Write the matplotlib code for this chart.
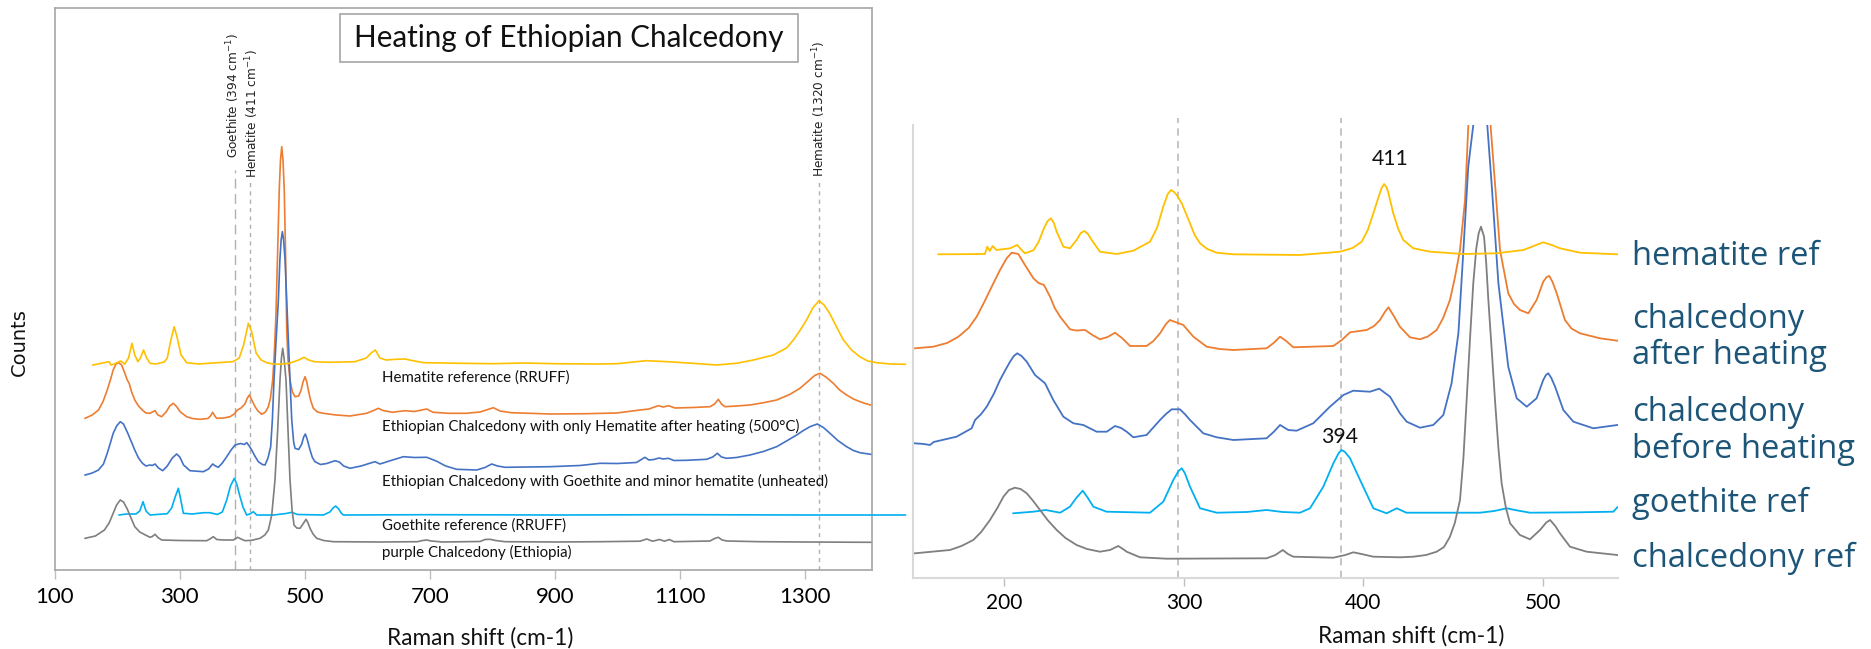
import matplotlib
matplotlib.use("Agg")
import matplotlib.pyplot as plt
from matplotlib.patches import Rectangle

# ---------------- data (Raman shift cm-1, counts in arbitrary units) ----------------
# Left panel (full range)
L_HEMATITE = [(161, 205), (187, 208.3), (190, 205), (195, 206), (205, 209), (212, 206), (218, 212),
    (223.5, 226.7), (228, 215), (233, 208.3), (237, 212), (242, 220), (247, 212), (252.5, 206.7),
    (262, 206), (275, 208), (280, 212), (285, 228), (291, 243.3), (296, 232), (302, 215), (311, 207.3),
    (330, 206), (360, 207.3), (385, 208.3), (395, 212), (402, 225), (409.6, 246.7), (415, 238),
    (422, 217), (430, 210), (440, 207), (455, 205.7), (475, 206.7), (490, 210), (498.6, 212.7),
    (506, 210), (515, 208.3), (540, 207.7), (580, 208.3), (598, 212), (606, 217), (612.6, 220),
    (620, 212), (630, 210), (645, 210.7), (660, 211), (675, 209), (690, 207.3), (750, 206.7),
    (800, 206.3), (850, 207), (900, 206.3), (970, 206), (1000, 206.3), (1030, 208.3), (1046, 209.3),
    (1080, 208.3), (1120, 206.7), (1158, 205), (1190, 206.7), (1217, 210), (1249, 215), (1270, 222),
    (1281, 230), (1292, 240), (1302, 250), (1312, 262), (1322, 269.3), (1330, 265), (1339, 256.7),
    (1350, 243), (1361, 230), (1374, 220), (1387, 213.3), (1400, 209), (1414, 207.3), (1435, 206),
    (1460, 205.7)]

L_AFTER = [(148.6, 151.7), (160, 155), (170, 160), (177, 168), (184, 180), (189, 190), (193.5, 200),
    (198, 206), (202, 207.3), (207, 205), (212, 197), (216, 190), (219, 186.7), (223, 178), (228, 170),
    (234, 164), (240, 160), (246, 157), (252.4, 156.7), (256, 158), (260.4, 159.3), (265, 155),
    (271, 153.3), (278, 158), (284, 164), (289.7, 166.7), (295, 163.3), (301, 158), (311, 153.3),
    (320, 151.5), (332.3, 150.7), (345, 151.5), (349, 154), (352.6, 157.7), (356, 154), (359, 151.7),
    (370, 152), (380.3, 153.3), (387, 156), (392, 160), (398, 162), (404, 166), (408, 172),
    (411.2, 175), (415, 170), (420.3, 163.3), (425, 159), (431, 155.7), (437, 158), (441.6, 163.3),
    (445, 172), (448.5, 190), (451, 215), (453.8, 256.7), (456.5, 320), (459, 380), (461, 410),
    (463, 423.3), (465, 410), (467, 380), (469, 320), (470.9, 240), (473, 210), (476.2, 190),
    (480, 178), (484.2, 173.3), (490, 174), (494, 180), (497, 188), (500.2, 193.3), (503, 188),
    (505.5, 180), (509, 170), (513.5, 161.7), (520, 158), (529.5, 156.7), (550, 155), (572, 154),
    (598.8, 156.7), (608, 159), (617.4, 161.7), (625, 159.5), (640, 157.7), (660, 159.3),
    (675, 158.5), (694.7, 161), (705, 157.7), (730, 156.7), (758.7, 156.7), (780, 158), (790, 160),
    (801.3, 162.3), (812, 159), (830, 157.3), (891.9, 156), (950, 156.3), (998.5, 157),
    (1035.8, 160), (1050, 161), (1065, 164.3), (1073, 163), (1081, 164.3), (1092, 162),
    (1120, 162.5), (1147.7, 163.3), (1155, 166), (1161, 170.7), (1166, 166), (1171.6, 163.3),
    (1190, 164), (1211.6, 165), (1235, 167.5), (1254.2, 170), (1275, 175.5), (1291.5, 181.7),
    (1305, 189), (1315, 194.5), (1323.5, 196.7), (1333, 193), (1344.8, 186.7), (1355, 180),
    (1366.1, 175), (1377, 171), (1387.5, 168.3), (1396, 166.5), (1404.5, 165)]

L_BEFORE = [(148.6, 95), (160, 97), (170, 100), (178, 106), (184, 116.7), (189, 127), (193.5, 136.7),
    (199, 144), (204.8, 148.3), (210, 146), (216.9, 136.7), (222, 129), (228, 120), (234, 112),
    (240.3, 106.7), (246, 104), (252.4, 105), (256, 104.5), (260.4, 106), (266, 102), (272.6, 99.3),
    (280, 104), (288, 112), (295, 116), (300, 113), (306, 105), (316.3, 99.3), (337.7, 98.3),
    (346, 101), (352.6, 106), (357, 104), (361.6, 102.7), (368, 107), (375, 113.3), (382, 120),
    (388.3, 125), (397, 126.5), (403, 125.5), (407, 127.3), (411, 124), (415, 120), (420, 114),
    (425.6, 108.3), (432, 105.5), (436.3, 105), (441, 112), (445.3, 123.3), (448, 150), (450.6, 190),
    (454, 230), (457.6, 270), (460, 310), (462, 330), (464, 338.3), (466, 330), (468.3, 310),
    (470.9, 270), (473.5, 230), (476.2, 190), (479, 150), (482, 128), (484.2, 121.7), (490, 120.5),
    (495, 126), (498, 133), (500.7, 136), (504, 130), (508.2, 120), (512, 112.5), (516.2, 108.3),
    (525, 105.5), (535, 106.5), (548.2, 109.3), (555, 108), (562, 104), (572.1, 101.7), (590, 104),
    (605, 107), (612.1, 108.3), (620, 106), (635, 109), (657.4, 113.3), (675, 112.5), (694.7, 112.7),
    (710, 109), (725, 104), (742.7, 100.7), (774.6, 100), (788, 102.5), (798.6, 106), (808, 104),
    (820, 102.7), (860, 103), (891.9, 103.3), (940, 104.5), (971.8, 106.7), (1000, 106.5),
    (1030, 107.5), (1041, 111.7), (1043.7, 112.7), (1050, 110), (1058, 110.5), (1066, 112),
    (1073, 111), (1081, 111.7), (1090, 109.5), (1110, 109.7), (1142.3, 110.7), (1152, 113),
    (1159.4, 116.7), (1166, 113), (1174.3, 111.7), (1190, 112.5), (1211.6, 115), (1233, 118.5),
    (1254.2, 123.3), (1270, 129), (1286.2, 135), (1297, 139.5), (1307.5, 143.3), (1319.2, 146),
    (1329, 142.5), (1339.5, 136.7), (1352, 129.5), (1366.1, 123.3), (1377, 119.5), (1387.5, 117.3),
    (1396, 116.5), (1404.5, 115.7)]

L_GOETHITE = [(203, 55), (215, 56), (230, 56), (236, 59), (241.2, 68.3), (246, 59), (252.4, 55),
    (280, 56.3), (287, 62), (292, 72), (297.7, 81.7), (301, 72), (305.7, 56.7), (320, 56), (338, 57.3),
    (348.3, 57.3), (360, 55.5), (368, 58), (375, 70), (381, 84), (387.2, 91.7), (391, 86),
    (396.3, 73.3), (401, 63), (406.9, 55), (412, 56), (417.6, 58.3), (423, 55), (450, 55),
    (470, 56.5), (478.9, 57.7), (488, 55.5), (529.5, 55), (540, 58), (545, 62), (549.2, 64),
    (554, 61), (558, 57), (561.5, 55), (700, 55.3), (900, 55), (1100, 55.3), (1300, 55), (1460, 55)]

L_PURPLE = [(148.6, 31.7), (165, 34), (179.5, 40), (187, 47), (193.5, 56.7), (199, 65), (204.8, 70),
    (210, 68), (216, 61), (222, 52), (228, 43.3), (236, 38), (245, 35), (252.4, 32.7), (256, 33.5),
    (260.4, 35.7), (265, 32.5), (271, 30), (300, 29.5), (343, 29.3), (348, 31), (353.7, 33.3),
    (359, 30.5), (370, 30), (385.6, 30), (392.6, 32.7), (398, 31), (404.3, 29.3), (415, 29.7),
    (428.3, 31.7), (436, 35), (441.6, 40), (447, 55), (452.2, 90), (456.5, 140), (460.2, 190),
    (462.5, 212), (464.5, 221.7), (466.7, 212), (469.8, 190), (473, 140), (476.2, 90), (479.5, 60),
    (482.6, 45), (487, 42), (492.2, 41.7), (497, 46), (501.8, 50.7), (505, 47), (508.2, 41.7),
    (513, 36), (518.9, 31.7), (530, 29.5), (545.5, 28.3), (620, 28), (680, 28.3), (688, 29.5),
    (694.7, 30), (702, 29), (720, 28), (780, 28.5), (788, 30.5), (796, 30.7), (805, 29.5),
    (820, 28.3), (900, 28), (971.8, 28.3), (1036, 28.8), (1046.4, 31), (1056, 28.8), (1066.7, 30.5),
    (1075, 28.8), (1082.6, 30.5), (1090, 28.3), (1147.7, 29), (1155, 31.5), (1161, 32.7),
    (1167, 30), (1175, 29), (1227.6, 28.3), (1300, 28), (1404.5, 27.7)]

# Right panel (zoom 150-540 cm-1)
R_HEMATITE = [(163.1, 323.7), (175, 323.8), (189.1, 324), (190.4, 331.3), (191.8, 327), (193.4, 332),
    (195.5, 328), (203.1, 329.7), (207.1, 333), (209.5, 328), (211.4, 324.7), (216.1, 327.7),
    (219, 336), (221.6, 348), (224, 357), (225.9, 359.7), (227.5, 355), (229.1, 346.3), (232.8, 331.3),
    (236.5, 329.7), (240.2, 338), (242.5, 345), (244.5, 347), (246.5, 344), (248.6, 338),
    (253.2, 326.3), (262.5, 324), (271.8, 327.3), (281.1, 336.3), (285, 350), (288.5, 371.3),
    (291, 384), (292.8, 388), (294.5, 386), (296, 383), (298.8, 374.7), (303.4, 354.7), (306, 343),
    (309, 334.7), (313, 329), (318.3, 325.3), (327.6, 323.7), (364.7, 323), (387, 326.3),
    (394, 330), (399.1, 336.3), (402.5, 348), (405.6, 364.7), (408.5, 381), (410.2, 390),
    (411.6, 394), (413, 390.5), (414, 385), (416.7, 364.7), (419.5, 349), (422.3, 338),
    (427.9, 329.7), (437.2, 326.3), (455.8, 324), (474.3, 324.7), (489.2, 328), (495, 332),
    (500.3, 335.7), (505, 333), (509.6, 329.7), (520.8, 325.3), (541.6, 323.7)]

R_AFTER = [(150.1, 229.7), (160.3, 231.3), (168, 235), (174.3, 241.3), (180, 250), (184.5, 261.3),
    (189, 277), (193.8, 294.7), (197.5, 308), (201.2, 319.7), (204, 325.3), (207.7, 324),
    (211.4, 313), (216.1, 299.7), (219, 295), (222, 293), (225.4, 281.3), (228, 270), (231, 261.3),
    (236.5, 248.7), (240, 247.5), (244.9, 248), (249, 243), (253.2, 238.7), (257.5, 241),
    (261.6, 245.3), (265.5, 240), (270, 232), (279.2, 232), (283, 237), (286.7, 244.7), (290, 254),
    (292.2, 258), (296, 255.5), (299.7, 253), (302.5, 247), (305.3, 241.3), (312.7, 231.3),
    (320, 229), (327.6, 228), (346.1, 229.7), (350, 235), (353.6, 241.3), (357, 237), (361, 230.7),
    (383.3, 232), (388, 238), (392.6, 245.7), (401.9, 248), (406, 252), (409.3, 258), (412, 266),
    (414, 270.7), (417, 262), (420.4, 251.3), (426, 240.7), (431.6, 238.7), (436, 241.5),
    (440.9, 248), (444.5, 260), (448.3, 278), (451, 300), (453.9, 328), (456.7, 378), (458.5, 451.3),
    (461, 560), (465, 620), (469, 560), (471, 451), (473.4, 394.7), (476.2, 328), (480.8, 284.7),
    (484, 274), (487.3, 268), (492, 264.7), (496.6, 278), (500.3, 296.3), (502.2, 301),
    (503.7, 302), (505.5, 296), (507.8, 284.7), (512.4, 258), (516, 249.5), (520.8, 244.7),
    (531.9, 239.7), (541.6, 237.3)]

R_BEFORE = [(150.1, 134.7), (155, 134), (158.5, 133), (160.5, 136), (173.3, 141.3), (181.7, 149.7),
    (183.6, 158), (187, 164), (190.1, 171.3), (194, 184), (197.5, 198), (200.5, 208), (203.1, 216.3),
    (205.2, 222), (207.1, 224.7), (209.5, 222), (212.4, 216.3), (217, 203), (222.6, 194.7),
    (227.2, 178), (232.8, 161.3), (238.4, 154.7), (243.9, 153), (251.4, 146.3), (257, 146.3),
    (261.6, 152), (265, 150), (268.1, 146.3), (271.8, 140.7), (279.2, 143), (286.7, 158),
    (290, 164), (293.2, 168.7), (297.8, 168.7), (300.5, 164), (303.4, 158), (310.8, 144.7),
    (318.3, 140.7), (327.6, 138), (346.1, 139.7), (350, 146), (353.6, 153), (358.2, 148),
    (362.8, 147.3), (372.1, 154.7), (381.4, 171.3), (388.9, 183), (394.4, 187.3), (403.7, 186.3),
    (408.9, 189.3), (414.9, 181.3), (420.4, 164.7), (424.2, 156.3), (431.6, 150.3), (439, 153),
    (444.6, 163), (449.2, 194.7), (453, 244.7), (455.8, 328), (458.5, 411.3), (461.3, 453),
    (463.5, 520), (465.5, 540), (467.3, 520), (469.1, 453), (471.5, 394.7), (475.3, 294.7),
    (480.8, 211.3), (485.5, 179.7), (491.1, 171.3), (496.6, 179.7), (500.3, 198), (501.8, 203),
    (503.1, 204.7), (504.8, 200), (506.9, 191.3), (511.5, 168), (517.1, 156.3), (528.2, 149.7),
    (541.6, 153)]

R_GOETHITE = [(204.9, 64.7), (216.1, 66.3), (223, 68), (231, 65.3), (236.5, 71.3), (240, 80),
    (243.6, 87.3), (246.5, 80), (249.5, 71.3), (256.9, 66.3), (281.1, 65.3), (288.5, 76.3),
    (294.1, 98), (297, 107), (298.8, 109.7), (300.5, 105), (303.4, 91.3), (309, 69.7), (318.3, 65.3),
    (335, 66), (346.1, 68), (355, 66), (364.7, 65.3), (370.3, 69.7), (377.7, 91.3), (383.3, 114.7),
    (386.3, 125), (387.9, 128), (389.8, 126), (392.6, 119.7), (398.2, 98), (405.6, 69.7), (413, 64.7),
    (418.6, 69.7), (424, 65.3), (446.5, 65.3), (465, 65.3), (473, 67), (479.9, 69.7), (486, 67.5),
    (492.9, 65.3), (520, 65.7), (539.4, 66.3), (541.6, 70.7)]

R_CHALC = [(150.1, 24.7), (169.6, 28), (176, 32), (182.6, 38), (187, 46), (191.9, 58), (196, 70),
    (199.4, 81.3), (202.5, 88), (205.8, 90.3), (209, 89), (212.4, 84.7), (216, 77), (219.8, 68),
    (224, 58), (229.1, 48), (234, 40), (240.2, 33), (246, 29), (253.2, 26.3), (258.8, 28),
    (263.4, 32), (266, 29), (268.1, 26.3), (275.5, 20.7), (290.4, 19.3), (346.1, 19.7), (351, 23),
    (355.1, 28), (358, 24), (361, 21.3), (383.3, 20.3), (390, 23), (394.4, 25.7), (399, 24),
    (405.6, 21.3), (420.4, 20.7), (427.9, 21.3), (435, 23), (440.9, 26.3), (445, 31), (448.3, 41.3),
    (451, 55), (453.9, 78), (455.8, 120), (457.6, 178), (459.5, 240), (461.3, 294.7), (463, 330),
    (464.3, 344.7), (465.6, 351.3), (467.3, 341.3), (468.5, 315), (469.7, 278), (471.5, 230),
    (473.4, 178), (475.3, 130), (477.1, 94.7), (479.5, 70), (481.8, 54.7), (487.3, 43), (492.9, 38.7),
    (498.5, 48), (502, 55.5), (504.1, 58), (507, 52), (509.6, 44.7), (515.2, 31.3), (524.5, 26.3),
    (541.6, 23)]

LEFT_TICKS = [100, 300, 500, 700, 900, 1100, 1300]
RIGHT_TICKS = [200, 300, 400, 500]
LEFT_MARKERS = [388.7, 411.8, 1321.9]
LEFT_MARKER_LABELS = ["Goethite (394 cm$^{-1}$)", "Hematite (411 cm$^{-1}$)", "Hematite (1320 cm$^{-1}$)"]
RIGHT_MARKERS = [296.7, 387.6]
SERIES_LABELS = ["Hematite reference (RRUFF)",
                 "Ethiopian Chalcedony with only Hematite after heating (500°C)",
                 "Ethiopian Chalcedony with Goethite and minor hematite (unheated)",
                 "Goethite reference (RRUFF)",
                 "purple Chalcedony (Ethiopia)"]
RIGHT_LABEL_LINES = ["hematite ref", "chalcedony", "after heating", "chalcedony", "before heating",
                     "goethite ref", "chalcedony ref"]

YELLOW, ORANGE, BLUE, CYAN, GRAY = "#FFC000", "#ED7D31", "#4472C4", "#00B0F0", "#7F7F7F"

# ---------------- figure ----------------
W, H = 1871, 649
fig = plt.figure(figsize=(W / 100, H / 100), dpi=100)
fig.patch.set_facecolor("white")

def fx(X):
    return X / W

def fy(Y):
    return 1 - Y / H

SANS = "Lato"
VER = "DejaVu Sans"
LABEL_BLUE = "#1C5578"

def xy(pairs):
    return [p[0] for p in pairs], [p[1] for p in pairs]

# ---- left panel ----
ax1 = fig.add_axes([fx(54.7), fy(570), (871.7 - 54.7) / W, (570 - 8) / H])
ax1.set_xlim(100, 1406.2)
ax1.set_ylim(0, 562)
for s in ax1.spines.values():
    s.set_color("#A6A6A6")
    s.set_linewidth(1.2)
ax1.set_yticks([])
ax1.set_xticks(LEFT_TICKS)
ax1.set_xticklabels([str(t) for t in LEFT_TICKS], fontfamily=SANS, fontsize=16)
ax1.tick_params(axis="x", length=6.5, width=1, color="#BFBFBF", pad=6)

lw = 1.2
ax1.plot(*xy(L_AFTER), color=ORANGE, lw=lw, zorder=2)
ax1.plot(*xy(L_BEFORE), color=BLUE, lw=lw, zorder=3)
ax1.plot(*xy(L_GOETHITE), color=CYAN, lw=lw, zorder=4, clip_on=False)
ax1.plot(*xy(L_PURPLE), color=GRAY, lw=lw, zorder=5)
ax1.plot(*xy(L_HEMATITE), color=YELLOW, lw=lw, zorder=6, clip_on=False)

marker_tops = [400, 388, 388]
marker_dash = [(7, 4), (3, 3), (3, 3)]
label_x = [385.8, 415.9, 1322.7]
label_y = [412, 392, 393]
for mx, top, d, lbl, lx, ly in zip(LEFT_MARKERS, marker_tops, marker_dash, LEFT_MARKER_LABELS, label_x, label_y):
    ax1.plot([mx, mx], [0, top], color="#B0B0B0", lw=1, dashes=d, zorder=1)
    ax1.text(lx, ly, lbl, rotation=90, ha="center", va="bottom", fontsize=8.7,
             fontfamily=VER, color="#222222")

series_label_y = [192, 143.3, 88.3, 44, 17.3]
for lbl, ly in zip(SERIES_LABELS, series_label_y):
    ax1.text(623.7, ly, lbl, ha="left", va="center", fontsize=10.8, fontfamily=SANS, color="#111111")

# ---- right panel ----
ax2 = fig.add_axes([fx(913), fy(578), (1617.7 - 913) / W, (578 - 125) / H])
ax2.set_xlim(149.0, 541.8)
ax2.set_ylim(0, 453)
ax2.patch.set_alpha(0)
ax2.spines["top"].set_visible(False)
ax2.spines["right"].set_visible(False)
for k in ("left", "bottom"):
    ax2.spines[k].set_color("#D9D9D9")
    ax2.spines[k].set_linewidth(1.5)
ax2.set_yticks([])
ax2.set_xticks(RIGHT_TICKS)
ax2.set_xticklabels([str(t) for t in RIGHT_TICKS], fontfamily=SANS, fontsize=15)
ax2.tick_params(axis="x", length=6, width=1, color="#BFBFBF", pad=5)

lw2 = 1.3
for mx in RIGHT_MARKERS:
    ax2.plot([mx, mx], [0, 460], color="#BFBFBF", lw=1.3, dashes=(4, 3), zorder=1, clip_on=False)
ax2.plot(*xy(R_AFTER), color=ORANGE, lw=lw2, zorder=2)
ax2.plot(*xy(R_BEFORE), color=BLUE, lw=lw2, zorder=3)
ax2.plot(*xy(R_GOETHITE), color=CYAN, lw=lw2, zorder=4)
ax2.plot(*xy(R_CHALC), color=GRAY, lw=lw2, zorder=5)
ax2.plot(*xy(R_HEMATITE), color=YELLOW, lw=lw2, zorder=6)

ax2.text(414.9, 419, "411", ha="center", va="center", fontsize=15.3, fontfamily=SANS, color="#111111")
ax2.text(387.0, 141, "394", ha="center", va="center", fontsize=15.3, fontfamily=SANS, color="#111111")

right_baselines = [265, 327.7, 364.3, 420.7, 458.3, 512, 567]
for lbl, by in zip(RIGHT_LABEL_LINES, right_baselines):
    fig.text(fx(1632), fy(by), lbl, ha="left", va="baseline", fontsize=23.5, fontfamily="Open Sans",
             color=LABEL_BLUE)

# ---- title box, axis labels ----
fig.add_artist(Rectangle((fx(340), fy(62)), (798 - 340) / W, (62 - 14) / H, transform=fig.transFigure,
                         facecolor="white", edgecolor="#A6A6A6", lw=1.2, zorder=5))
fig.text(fx(569), fy(38), "Heating of Ethiopian Chalcedony", ha="center", va="center", fontsize=21.3,
         fontfamily=SANS, color="#111111", zorder=6)
fig.text(fx(19.5), fy(342), "Counts", rotation=90, ha="center", va="center", fontsize=14,
         fontfamily=VER, color="#111111")
fig.text(fx(480), fy(638), "Raman shift (cm-1)", ha="center", va="center", fontsize=16.3,
         fontfamily=SANS, color="#111111")
fig.text(fx(1411), fy(636), "Raman shift (cm-1)", ha="center", va="center", fontsize=16.3,
         fontfamily=SANS, color="#111111")

fig.savefig("out.png", dpi=100)
